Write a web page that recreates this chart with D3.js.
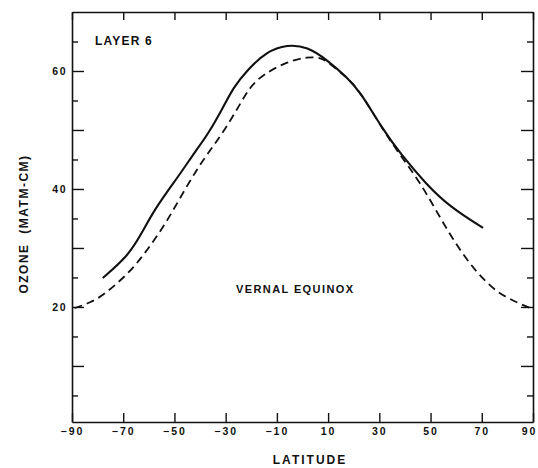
<!DOCTYPE html>
<html><head><meta charset="utf-8">
<script src="https://cdn.jsdelivr.net/npm/d3@7"></script>
<style>
html,body{margin:0;padding:0;background:#fff;}
svg{display:block;}
text{font-family:"Liberation Sans",Arial,sans-serif;font-weight:bold;fill:#111;}
</style></head>
<body>
<svg id="c" width="538" height="468"></svg>
<script>
// Data (latitude in degrees, ozone in matm-cm)
const solidLat = [-78, -68.5, -63.5, -57.5, -48, -42, -37, -31, -27, -21.5, -14, -6, 2, 9.5, 17.5, 22.5, 31.5, 38, 48.5, 57.5, 70.5];
const solidVal = [24.9, 28.5, 31.9, 36.8, 42.4, 46.3, 49.2, 53.8, 57.2, 60.2, 63.3, 64.5, 64.1, 61.9, 58.9, 56.5, 50.0, 46.1, 40.7, 37.0, 33.4];
const dashLat = [-89, -83, -78, -67.5, -60.5, -53, -46, -39, -31, -24.5, -20.5, -15.5, -6, 2, 7, 9.5, 17.5, 22.5, 31.5, 38, 46, 53.5, 60.5, 68, 76, 84, 89, 90];
const dashVal = [19.8, 20.7, 21.9, 25.8, 29.7, 34.4, 39.9, 44.9, 49.5, 54.3, 57.3, 59.4, 61.6, 62.4, 62.3, 61.6, 58.9, 56.5, 50.0, 45.8, 41.1, 35.3, 30.2, 25.8, 22.4, 20.7, 19.8, 19.7];
const xTickLabels = [-90, -70, -50, -30, -10, 10, 30, 50, 70, 90];
const yMajorTicks = [10, 20, 30, 40, 50, 60];
const yMinorTicks = [5, 15, 25, 35, 45, 55, 65];
const yLabelTicks = [20, 40, 60];
const xTitle = "LATITUDE";
const yTitle = "OZONE  (MATM-CM)";
const layerLabel = "LAYER 6";
const seasonLabel = "VERNAL EQUINOX";

const svg = d3.select("#c");
const L = 72, R = 533, T = 12, B = 422;
const x = d3.scaleLinear().domain([-90, 90]).range([L, R]);
const y = d3.scaleLinear().domain([0.5, 70]).range([B, T]);

function styleAxis(g){
  g.selectAll("path.domain").attr("stroke","#111").attr("stroke-width",1.6);
  g.selectAll(".tick line").attr("stroke","#111").attr("stroke-width",1.4);
}
function styleText(sel, ls){
  sel.attr("font-size",10.5).attr("letter-spacing",ls).attr("font-family",'"Liberation Sans",Arial,sans-serif')
     .attr("font-weight","bold").attr("fill","#111");
}

// bottom axis
const gB = svg.append("g").attr("transform",`translate(0,${B})`)
  .call(d3.axisBottom(x).tickValues(xTickLabels).tickSize(-9).tickSizeOuter(0).tickPadding(6).tickFormat(d3.format("d")));
styleAxis(gB);
styleText(gB.selectAll(".tick text"), "2px");
gB.selectAll(".tick text").filter(d => d === 90).attr("dx", -4);
// top axis
const gT = svg.append("g").attr("transform",`translate(0,${T})`)
  .call(d3.axisTop(x).tickValues(xTickLabels).tickSize(-8).tickSizeOuter(0).tickFormat(""));
styleAxis(gT);
// left axis major + minor
const gL = svg.append("g").attr("transform",`translate(${L},0)`)
  .call(d3.axisLeft(y).tickValues(yMajorTicks).tickSize(-12).tickSizeOuter(0).tickPadding(5)
    .tickFormat(d => yLabelTicks.includes(d) ? d : ""));
styleAxis(gL);
styleText(gL.selectAll(".tick text"), "1.5px");
const gL2 = svg.append("g").attr("transform",`translate(${L},0)`)
  .call(d3.axisLeft(y).tickValues(yMinorTicks).tickSize(-6).tickSizeOuter(0).tickFormat(""));
styleAxis(gL2); gL2.select("path.domain").remove();
// right axis
const gR = svg.append("g").attr("transform",`translate(${R},0)`)
  .call(d3.axisRight(y).tickValues(yMajorTicks).tickSize(-12).tickSizeOuter(0).tickFormat(""));
styleAxis(gR);
const gR2 = svg.append("g").attr("transform",`translate(${R},0)`)
  .call(d3.axisRight(y).tickValues(yMinorTicks).tickSize(-6).tickSizeOuter(0).tickFormat(""));
styleAxis(gR2); gR2.select("path.domain").remove();

// curves
const line = d3.line().x(d => x(d[0])).y(d => y(d[1])).curve(d3.curveBasis);
svg.append("path").datum(d3.zip(dashLat, dashVal)).attr("d", line)
  .attr("fill","none").attr("stroke","#111").attr("stroke-width",1.8).attr("stroke-dasharray","8,5");
svg.append("path").datum(d3.zip(solidLat, solidVal)).attr("d", line)
  .attr("fill","none").attr("stroke","#111").attr("stroke-width",2.1);

// texts
svg.append("text").attr("x",95).attr("y",45).attr("font-size",12).attr("letter-spacing","1.2px").text(layerLabel);
svg.append("text").attr("x",236).attr("y",293).attr("font-size",11).attr("letter-spacing","1.4px").text(seasonLabel);
svg.append("text").attr("x",310).attr("y",464).attr("text-anchor","middle").attr("font-size",12).attr("letter-spacing","2px").text(xTitle);
svg.append("text").attr("transform","translate(28,224) rotate(-90)").attr("text-anchor","middle")
  .attr("font-size",12).attr("letter-spacing","1.5px").attr("xml:space","preserve").style("white-space","pre").text(yTitle);
</script>
</body></html>
